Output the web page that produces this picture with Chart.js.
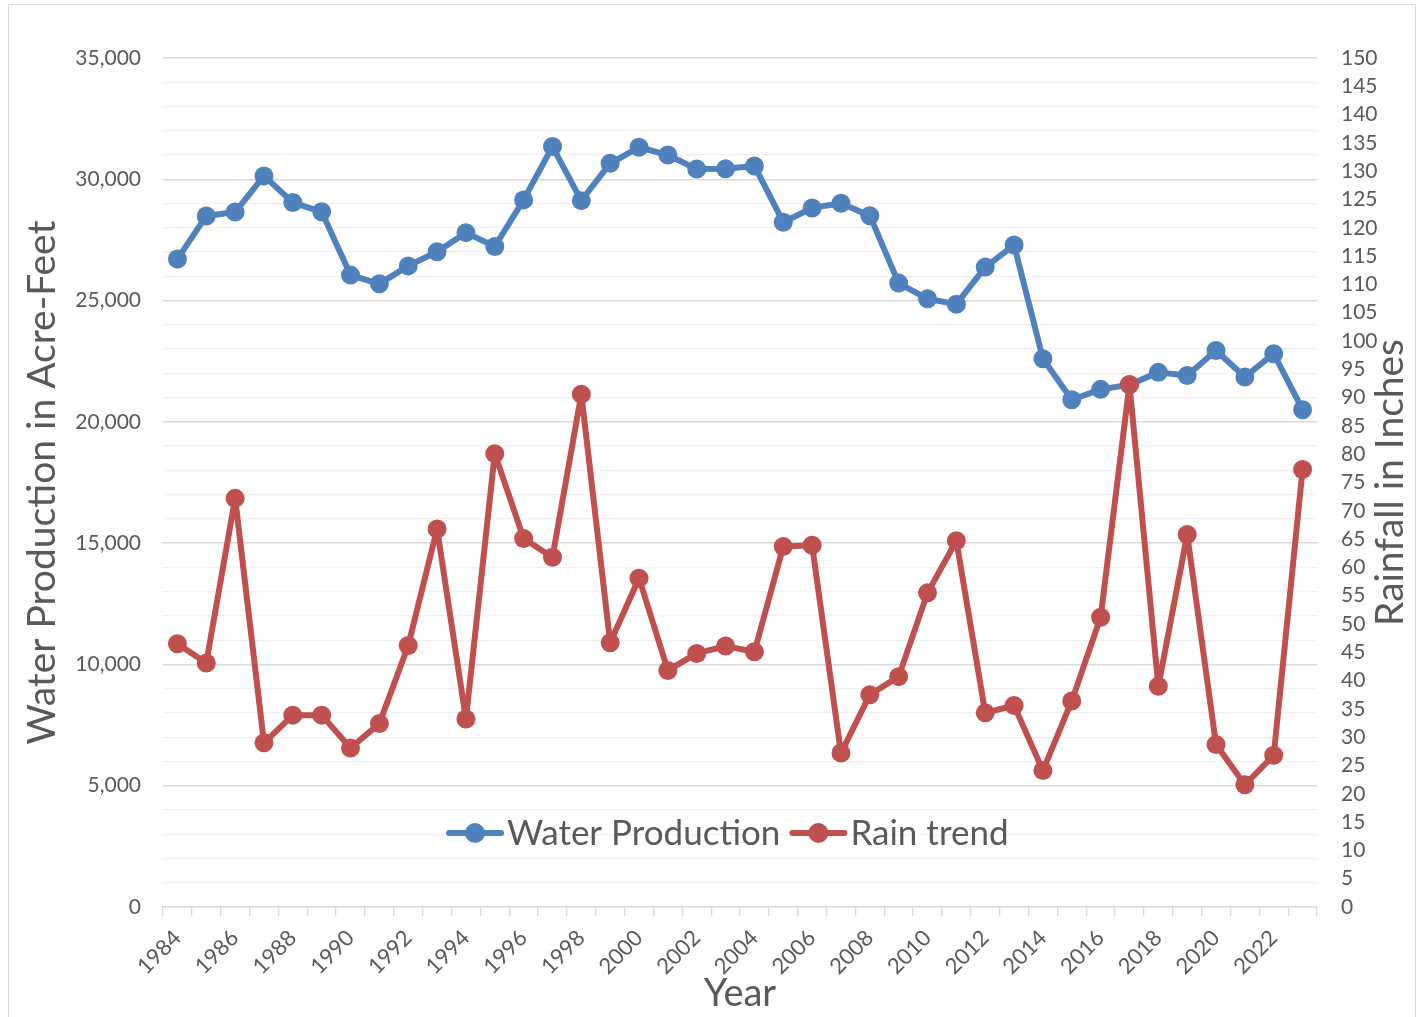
<!DOCTYPE html>
<html>
<head>
<meta charset="utf-8">
<script src="https://cdn.jsdelivr.net/npm/chart.js@4.4.1/dist/chart.umd.min.js"></script>
<style>
  html, body { margin: 0; padding: 0; background: #ffffff; }
  #wrap { position: absolute; left: 0; top: 0; width: 1423px; height: 1017px; overflow: hidden; }
  #frame { position: absolute; left: 8px; top: 4px; width: 1408px; height: 1040px; border: 1px solid #d9d9d9; box-sizing: border-box; }
  #c { position: absolute; left: 0; top: 0; }
</style>
</head>
<body>
<div id="wrap">
  <div id="frame"></div>
  <canvas id="c" width="1423" height="1017"></canvas>
</div>
<script>
const years = ["1984","1985","1986","1987","1988","1989","1990","1991","1992","1993",
               "1994","1995","1996","1997","1998","1999","2000","2001","2002","2003",
               "2004","2005","2006","2007","2008","2009","2010","2011","2012","2013",
               "2014","2015","2016","2017","2018","2019","2020","2021","2022","2023"];

const waterProduction = [26710, 28490, 28650, 30140, 29040, 28660, 26050, 25690, 26430, 27010,
                         27800, 27230, 29150, 31350, 29120, 30660, 31320, 31000, 30420, 30430,
                         30550, 28230, 28820, 29010, 28500, 25720, 25070, 24850, 26380, 27290,
                         22600, 20910, 21340, 21530, 22040, 21910, 22940, 21850, 22810, 20500];

const rainTrend = [46.5, 43.1, 72.2, 29.0, 33.9, 33.9, 28.1, 32.4, 46.2, 66.8,
                   33.2, 80.1, 65.1, 61.8, 90.6, 46.7, 58.1, 41.8, 44.8, 46.1,
                   45.1, 63.7, 63.9, 27.2, 37.5, 40.7, 55.5, 64.7, 34.3, 35.6,
                   24.1, 36.4, 51.2, 92.3, 39.0, 65.8, 28.7, 21.6, 26.8, 77.3];

const seriesNames = ["Water Production", "Rain trend"];
const axisTitles = { x: "Year", left: "Water Production in Acre-Feet", right: "Rainfall in Inches" };
const leftAxisRange = { min: 0, max: 35000, step: 1000, labelEvery: 5000 };
const rightAxisRange = { min: 0, max: 150, step: 5 };

const BLUE = "#4F81BD";
const RED = "#C0504D";
const TEXT = "#595959";
const FONT = "Lato, 'Open Sans', sans-serif";

const customDecor = {
  id: "customDecor",
  afterDraw(chart) {
    const ctx = chart.ctx;
    const area = chart.chartArea;
    // Right axis title (reads bottom to top)
    ctx.save();
    ctx.fillStyle = TEXT;
    ctx.font = "39px " + FONT;
    ctx.textAlign = "center";
    ctx.textBaseline = "middle";
    ctx.translate(1390, (area.top + area.bottom) / 2);
    ctx.rotate(-Math.PI / 2);
    ctx.fillText(axisTitles.right, 0, 0);
    ctx.restore();

    // Legend inside plot area
    ctx.save();
    ctx.font = "35px " + FONT;
    ctx.textBaseline = "middle";
    ctx.textAlign = "left";
    let x = 447;
    const y = 833;
    chart.data.datasets.slice().sort((a, b) => a.legendIndex - b.legendIndex).forEach(ds => {
      ctx.strokeStyle = ds.borderColor;
      ctx.lineWidth = 6;
      ctx.lineCap = "round";
      ctx.beginPath();
      ctx.moveTo(x + 2, y);
      ctx.lineTo(x + 54, y);
      ctx.stroke();
      ctx.fillStyle = ds.borderColor;
      ctx.beginPath();
      ctx.arc(x + 28, y, 10, 0, Math.PI * 2);
      ctx.fill();
      ctx.fillStyle = TEXT;
      ctx.fillText(ds.label, x + 60, y + 1);
      x += 60 + ctx.measureText(ds.label).width + 10;
    });
    ctx.restore();
  }
};

new Chart(document.getElementById("c"), {
  type: "line",
  data: {
    labels: years,
    datasets: [
      {
        label: seriesNames[0],
        legendIndex: 0,
        data: waterProduction,
        yAxisID: "y",
        borderColor: BLUE,
        backgroundColor: BLUE,
        pointBackgroundColor: BLUE,
        pointBorderWidth: 0,
        pointRadius: 9.5,
        borderWidth: 6,
        borderJoinStyle: "round",
        borderCapStyle: "round",
        tension: 0,
        order: 1
      },
      {
        label: seriesNames[1],
        legendIndex: 1,
        data: rainTrend,
        yAxisID: "y1",
        borderColor: RED,
        backgroundColor: RED,
        pointBackgroundColor: RED,
        pointBorderWidth: 0,
        pointRadius: 9.5,
        borderWidth: 6,
        borderJoinStyle: "round",
        borderCapStyle: "round",
        tension: 0,
        order: 0
      }
    ]
  },
  options: {
    responsive: false,
    animation: false,
    devicePixelRatio: 1,
    layout: { padding: { left: 0, right: 0, top: 58, bottom: 0 } },
    plugins: { legend: { display: false }, tooltip: { enabled: false } },
    scales: {
      x: {
        type: "category",
        offset: true,
        grid: { offset: true, drawOnChartArea: false, drawTicks: true, tickLength: 9, color: "#d9d9d9", lineWidth: 1.3 },
        border: { display: true, color: "#d9d9d9", width: 1.3 },
        ticks: {
          autoSkip: false, minRotation: 45, maxRotation: 45, padding: 9,
          color: TEXT, font: { family: FONT, size: 22 },
          callback: function(v, i) { return i % 2 === 0 ? years[i] : ""; }
        },
        title: { display: true, text: axisTitles.x, color: TEXT, font: { family: FONT, size: 38 }, padding: { top: 0, bottom: 0 } },
        afterFit: s => { s.height = 110; }
      },
      y: {
        position: "left",
        min: leftAxisRange.min,
        max: leftAxisRange.max,
        grid: {
          drawTicks: false,
          color: c => (c.tick && c.tick.value % leftAxisRange.labelEvery === 0) ? "#d9d9d9" : "#f0f0f0",
          lineWidth: c => (c.tick && c.tick.value % leftAxisRange.labelEvery === 0) ? 1.5 : 1.3
        },
        border: { display: false },
        ticks: {
          stepSize: leftAxisRange.step, autoSkip: false, padding: 22,
          color: TEXT, font: { family: FONT, size: 21 },
          callback: v => v % leftAxisRange.labelEvery === 0 ? v.toLocaleString("en-US") : ""
        },
        title: { display: true, text: axisTitles.left, color: TEXT, font: { family: FONT, size: 39 }, padding: { top: 19, bottom: 0 } },
        afterFit: s => { s.width = 163; }
      },
      y1: {
        position: "right",
        min: rightAxisRange.min,
        max: rightAxisRange.max,
        grid: { drawOnChartArea: false, drawTicks: false },
        border: { display: false },
        ticks: { stepSize: rightAxisRange.step, autoSkip: false, padding: 24, color: TEXT, font: { family: FONT, size: 21 } },
        afterFit: s => { s.width = 106; }
      }
    }
  },
  plugins: [customDecor]
});
</script>
</body>
</html>
